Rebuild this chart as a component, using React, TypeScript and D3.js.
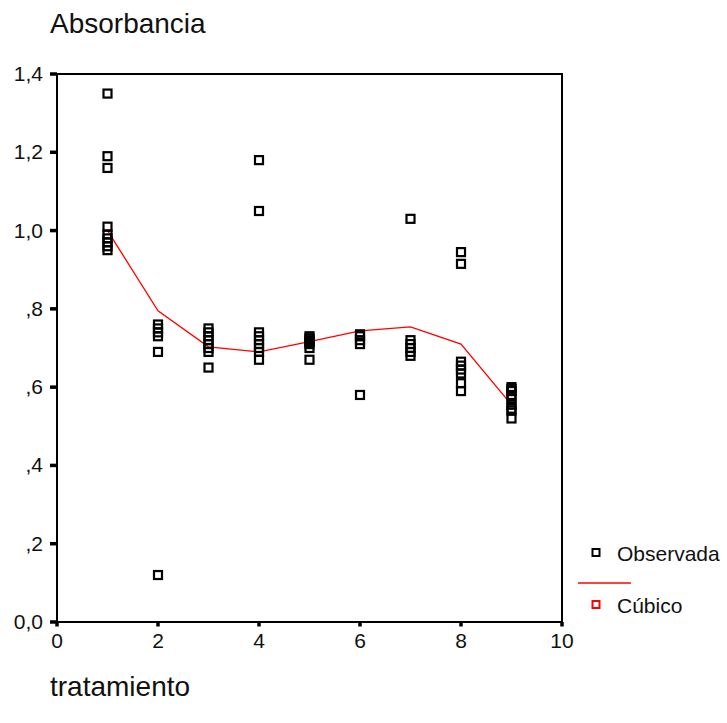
import React from "react";
import * as d3 from "d3";

const treatments = [1, 2, 3, 4, 5, 6, 7, 8, 9];
const observed: number[][] = [
  [1.35, 1.19, 1.16, 1.01, 0.99, 0.98, 0.97, 0.96, 0.95],
  [0.76, 0.75, 0.74, 0.73, 0.69, 0.12],
  [0.75, 0.74, 0.73, 0.72, 0.71, 0.7, 0.69, 0.65],
  [1.18, 1.05, 0.74, 0.73, 0.72, 0.71, 0.7, 0.69, 0.67],
  [0.73, 0.725, 0.72, 0.715, 0.71, 0.7, 0.67],
  [0.735, 0.73, 0.72, 0.71, 0.58],
  [1.03, 0.72, 0.71, 0.7, 0.69, 0.68],
  [0.945, 0.915, 0.665, 0.655, 0.645, 0.635, 0.61, 0.59],
  [0.6, 0.595, 0.59, 0.58, 0.57, 0.555, 0.545, 0.54, 0.52],
];
const cubicFit = [1.0, 0.795, 0.703, 0.69, 0.716, 0.744, 0.754, 0.71, 0.555];
const xTicks = [0, 2, 4, 6, 8, 10];
const yTicks = [0, 0.2, 0.4, 0.6, 0.8, 1.0, 1.2, 1.4];
const yTickLabels = ["0,0", ",2", ",4", ",6", ",8", "1,0", "1,2", "1,4"];
const legendLabels = ["Observada", "Cúbico"];
const yTitle = "Absorbancia";
const xTitle = "tratamiento";

const FONT = "'Liberation Sans', Arial, sans-serif";

export default function App() {
  const W = 727, H = 723;
  const x = d3.scaleLinear().domain([0, 10]).range([57, 562]);
  const y = d3.scaleLinear().domain([0, 1.4]).range([622, 74]);
  const pts: { t: number; v: number }[] = [];
  treatments.forEach((t, i) => observed[i].forEach((v) => pts.push({ t, v })));
  const line = d3
    .line<number>()
    .x((_, i) => x(treatments[i]))
    .y((d) => y(d))
    .curve(d3.curveLinear);
  const sq = 8;
  return (
    <svg width={W} height={H} style={{ position: "absolute", left: 0, top: 0, background: "#fff" }}>
      <rect x={0} y={0} width={W} height={H} fill="#fff" />
      <text x={50} y={33} fontFamily={FONT} fontSize={28} fill="#111">{yTitle}</text>
      <text x={50} y={696} fontFamily={FONT} fontSize={28} fill="#111">{xTitle}</text>
      {/* frame */}
      <rect x={x(0)} y={y(1.4)} width={x(10) - x(0)} height={y(0) - y(1.4)} fill="none" stroke="#000" strokeWidth={2} />
      {/* y ticks */}
      {yTicks.map((t, i) => (
        <g key={"y" + i}>
          <line x1={x(0) - 7} x2={x(0)} y1={y(t)} y2={y(t)} stroke="#000" strokeWidth={3.5} />
          <text x={43} y={y(t) + 7} textAnchor="end" fontFamily={FONT} fontSize={21} fill="#111">{yTickLabels[i]}</text>
        </g>
      ))}
      {/* x ticks */}
      {xTicks.map((t, i) => (
        <g key={"x" + i}>
          <line x1={x(t)} x2={x(t)} y1={y(0)} y2={y(0) + 4.5} stroke="#000" strokeWidth={3.5} />
          <text x={x(t)} y={648} textAnchor="middle" fontFamily={FONT} fontSize={21} fill="#111">{t}</text>
        </g>
      ))}
      {/* fitted line */}
      <path d={line(cubicFit) || ""} fill="none" stroke="#ff0000" strokeWidth={1.3} />
      {/* observed */}
      {pts.map((p, i) => (
        <rect key={"p" + i} x={x(p.t) - sq / 2} y={y(p.v) - sq / 2} width={sq} height={sq} fill="none" stroke="#000" strokeWidth={2.2} />
      ))}
      {/* legend */}
      <rect x={596 - 3.5} y={552.5 - 3.5} width={7} height={7} fill="#fff" stroke="#000" strokeWidth={2} />
      <text x={617} y={561} fontFamily={FONT} fontSize={21} fill="#111">{legendLabels[0]}</text>
      <line x1={578} x2={631} y1={583} y2={583} stroke="#ff0000" strokeWidth={1.5} />
      <rect x={596 - 3.5} y={604.5 - 3.5} width={7} height={7} fill="#fff" stroke="#ff0000" strokeWidth={2} />
      <text x={617} y={613} fontFamily={FONT} fontSize={21} fill="#111">{legendLabels[1]}</text>
    </svg>
  );
}
